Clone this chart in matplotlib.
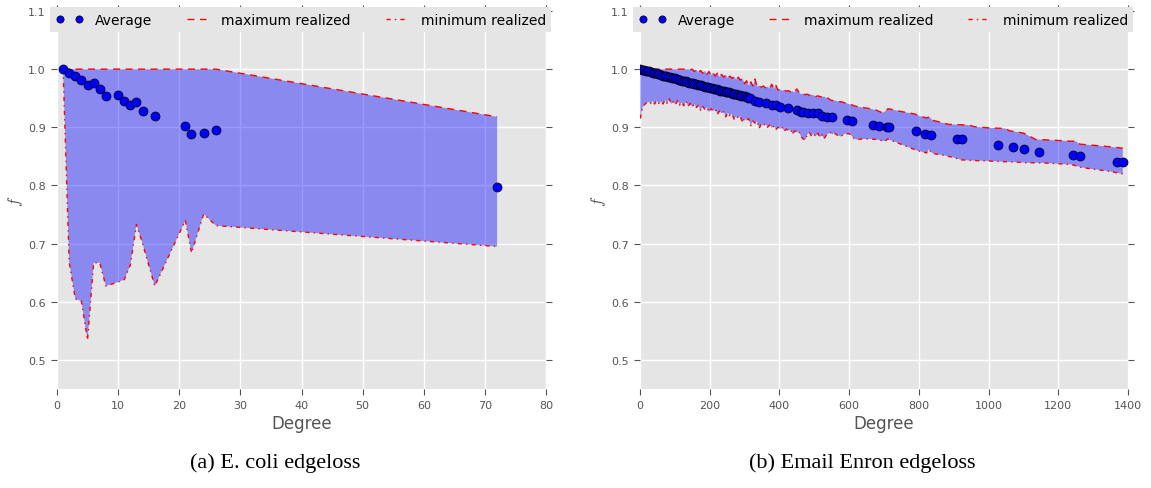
import numpy as np
import matplotlib
matplotlib.use("Agg")
import matplotlib.pyplot as plt

OUT_PNG = "out.png"

# --- E. coli edgeloss ---
ecoli_deg = [1, 2, 3, 4, 5, 6, 7, 8, 10, 11, 12, 13, 14, 16, 21, 22, 24, 26, 72]
ecoli_avg = [1.000, 0.994, 0.988, 0.981, 0.973, 0.976, 0.966, 0.953, 0.956, 0.945,
             0.938, 0.944, 0.928, 0.920, 0.903, 0.889, 0.891, 0.896, 0.797]
ecoli_max = [1.000, 1.000, 1.000, 1.000, 1.000, 1.000, 1.000, 1.000, 1.000, 1.000,
             1.000, 1.000, 1.000, 1.000, 1.000, 1.000, 1.000, 1.000, 0.918]
ecoli_min = [1.000, 0.668, 0.605, 0.601, 0.534, 0.667, 0.667, 0.627, 0.634, 0.638,
             0.663, 0.733, 0.700, 0.627, 0.740, 0.684, 0.751, 0.731, 0.695]

# --- Email Enron edgeloss ---
enron_avg_deg = [1, 6, 11, 16, 21, 26, 31, 36, 41, 46, 51, 56, 61, 66, 71, 76, 81, 86,
                 91, 96, 101, 106, 111, 116, 121, 126, 131, 136, 141, 146, 151, 156,
                 161, 166, 171, 176, 181, 186, 191, 196, 201, 206, 211, 216, 221, 226,
                 231, 236, 241, 246, 251, 256, 261, 266, 271, 276, 281, 286, 291, 296,
                 301, 306, 311, 316,
                 330, 342, 363, 380, 390, 403, 424, 451, 461, 468, 482, 496, 511, 522,
                 538, 551, 594, 608, 668, 687, 708, 715, 792, 818, 834, 910, 924, 1026,
                 1069, 1102, 1144, 1243, 1263, 1369, 1385]
enron_avg = [1.000, 0.999, 0.998, 0.997, 0.996, 0.996, 0.995, 0.994, 0.993, 0.993,
             0.992, 0.991, 0.990, 0.989, 0.988, 0.988, 0.987, 0.986, 0.985, 0.984,
             0.984, 0.983, 0.982, 0.981, 0.980, 0.980, 0.979, 0.978, 0.977, 0.977,
             0.976, 0.975, 0.974, 0.973, 0.973, 0.972, 0.971, 0.970, 0.969, 0.969,
             0.968, 0.967, 0.966, 0.966, 0.965, 0.964, 0.963, 0.963, 0.962, 0.961,
             0.960, 0.960, 0.959, 0.958, 0.957, 0.957, 0.956, 0.955, 0.954, 0.954,
             0.953, 0.952, 0.951, 0.951,
             0.946, 0.944, 0.942, 0.939, 0.938, 0.935, 0.933, 0.929, 0.927, 0.927,
             0.925, 0.924, 0.924, 0.920, 0.918, 0.917, 0.913, 0.911, 0.904, 0.902,
             0.900, 0.900, 0.893, 0.889, 0.887, 0.880, 0.879, 0.869, 0.866, 0.863,
             0.858, 0.853, 0.851, 0.841, 0.840]

enron_max_deg = [1, 140, 144, 150, 156, 162, 168, 174, 180, 186, 192, 198, 204, 210,
                 216, 222, 228, 234, 240, 246, 252, 258, 264, 270, 276, 282, 288, 294,
                 300, 306, 312, 318, 324, 330, 336, 342, 348, 354, 360, 366, 372, 378,
                 384, 390, 396, 402, 408, 414, 420, 426, 432, 438, 444, 450, 456, 462,
                 468, 474, 480, 486, 492, 498, 504, 510, 516, 522, 528, 534, 540, 546,
                 552, 558, 564, 570, 576, 582, 588, 594, 600,
                 620, 640, 660, 680, 695, 705, 712, 750, 787, 810, 822, 830, 840, 886,
                 940, 960, 1000, 1048, 1060, 1100, 1120, 1135, 1180, 1238, 1250, 1262,
                 1300, 1340, 1385]
enron_max = [1.000, 1.000, 0.999, 1.000, 0.996, 0.999, 0.994, 0.998, 0.993, 0.997,
             0.991, 0.996, 0.990, 0.994, 0.988, 0.993, 0.987, 0.991, 0.986, 0.990,
             0.985, 0.988, 0.984, 0.987, 0.982, 0.986, 0.981, 0.984, 0.975, 0.980,
             0.972, 0.978, 0.971, 0.983, 0.970, 0.972, 0.969, 0.971, 0.968, 0.970,
             0.967, 0.974, 0.966, 0.972, 0.964, 0.965, 0.963, 0.964, 0.962, 0.963,
             0.961, 0.962, 0.960, 0.966, 0.960, 0.957, 0.958, 0.956, 0.957, 0.955,
             0.956, 0.955, 0.953, 0.954, 0.953, 0.952, 0.953, 0.951, 0.950, 0.947,
             0.946, 0.946, 0.945, 0.944, 0.944, 0.943, 0.942, 0.941, 0.940,
             0.936, 0.934, 0.932, 0.929, 0.925, 0.928, 0.932, 0.927, 0.923, 0.918,
             0.916, 0.918, 0.912, 0.905, 0.904, 0.901, 0.899, 0.898, 0.894, 0.890,
             0.884, 0.879, 0.878, 0.876, 0.876, 0.871, 0.869, 0.867, 0.864]

enron_min_deg = [1, 4, 8, 12, 18, 24, 30, 36, 42, 48, 54, 60, 66, 72, 78, 84, 90, 96,
                 102, 108, 114, 120, 126, 132, 138, 144, 150, 156, 162, 168, 174, 180,
                 186, 192, 198, 204, 210, 216, 222, 228, 234, 240, 246, 252, 258, 264,
                 270, 276, 282, 288, 294, 300, 306, 312, 318, 324, 330, 336, 342, 348,
                 354, 360, 366, 372, 378, 384, 390, 396, 402, 408, 414, 420, 426, 432,
                 438, 444, 450, 456, 462, 468, 474, 480, 486, 492, 498, 504, 510, 516,
                 522, 528, 534, 540, 546, 552, 558, 564, 570, 576, 582, 588, 594, 600,
                 606, 612, 620, 640, 660, 680, 695, 704, 710, 740, 770, 795, 815, 822,
                 828, 840, 870, 900, 922, 950, 1000, 1040, 1080, 1110, 1141, 1180, 1238,
                 1266, 1300, 1340, 1385]
enron_min = [0.915, 0.925, 0.935, 0.938, 0.942, 0.944, 0.941, 0.945, 0.940, 0.946,
             0.941, 0.944, 0.940, 0.947, 0.941, 0.949, 0.940, 0.944, 0.939, 0.946,
             0.938, 0.943, 0.937, 0.945, 0.936, 0.941, 0.935, 0.940, 0.934, 0.938,
             0.929, 0.936, 0.931, 0.934, 0.926, 0.932, 0.928, 0.931, 0.922, 0.928,
             0.924, 0.927, 0.918, 0.925, 0.920, 0.923, 0.914, 0.919, 0.916, 0.919,
             0.908, 0.915, 0.912, 0.915, 0.903, 0.911, 0.907, 0.910, 0.898, 0.906,
             0.903, 0.906, 0.900, 0.904, 0.899, 0.902, 0.896, 0.900, 0.897, 0.900,
             0.893, 0.897, 0.894, 0.896, 0.888, 0.894, 0.891, 0.893, 0.884, 0.880,
             0.878, 0.888, 0.891, 0.885, 0.889, 0.884, 0.890, 0.883, 0.887, 0.880,
             0.886, 0.889, 0.891, 0.888, 0.890, 0.887, 0.886, 0.884, 0.887, 0.889,
             0.889, 0.889,
             0.886, 0.882, 0.879, 0.880, 0.880, 0.879, 0.877, 0.876, 0.880, 0.873,
             0.866, 0.860, 0.857, 0.856, 0.862, 0.855, 0.852, 0.848, 0.844, 0.843,
             0.842, 0.841, 0.840, 0.839, 0.839, 0.838, 0.836, 0.831, 0.828, 0.825,
             0.820]

ECOLI_XTICKS = [0, 10, 20, 30, 40, 50, 60, 70, 80]
ENRON_XTICKS = [0, 200, 400, 600, 800, 1000, 1200, 1400]
YTICKS = [0.5, 0.6, 0.7, 0.8, 0.9, 1.0, 1.1]

GREY = "#555555"
plt.rcParams["mathtext.fontset"] = "cm"


def style_axes(ax, xmax, xticks):
    ax.set_facecolor("#E5E5E5")
    ax.grid(True, color="white", linewidth=1.0, linestyle="-")
    ax.set_axisbelow(True)
    for s in ax.spines.values():
        s.set_visible(False)
    ax.set_xlim(0, xmax)
    ax.set_ylim(0.45, 1.1)
    ax.set_xticks(xticks)
    ax.set_yticks(YTICKS)
    ax.tick_params(direction="out", length=4, width=0.8, color=GREY,
                   labelcolor=GREY, labelsize=8, top=True, right=True, pad=4)
    ax.set_xlabel("Degree", fontsize=12, color=GREY, labelpad=3)
    ax.set_ylabel("$f$", fontsize=12, color=GREY, labelpad=2)


def draw_panel(ax, avg_x, avg_y, max_x, max_y, min_x, min_y):
    ax.plot(avg_x, avg_y, "o", color="b", mec="k", mew=0.5, ms=6.5,
            label="Average", zorder=4)
    ax.plot(max_x, max_y, color="r", lw=1.0, dashes=(5, 4),
            label="maximum realized", zorder=3)
    ax.plot(min_x, min_y, color="r", lw=1.0, dashes=(3, 3, 1, 3),
            label="minimum realized", zorder=3)
    # shaded band between the realized max and min
    band_x = np.concatenate([max_x, np.asarray(min_x)[::-1]])
    band_y = np.concatenate([max_y, np.asarray(min_y)[::-1]])
    ax.fill(band_x, band_y, color="b", alpha=0.4, lw=0, zorder=2)
    leg = ax.legend(loc="upper left", bbox_to_anchor=(-0.014, 0.944, 1.025, 0.066),
                    mode="expand", ncol=3, numpoints=2, fontsize=10,
                    markerscale=0.8, borderaxespad=0, handlelength=2.0,
                    handletextpad=0.8, frameon=True, fancybox=False)
    leg.get_frame().set_facecolor("#E5E5E5")
    leg.get_frame().set_edgecolor("none")
    leg.get_frame().set_alpha(1.0)


def main():
    fig = plt.figure(figsize=(11.51, 4.89), dpi=100)
    ax1 = fig.add_axes([0.0495, 0.2025, 0.4249, 0.773])
    ax2 = fig.add_axes([0.556, 0.2025, 0.4240, 0.773])

    style_axes(ax1, 80, ECOLI_XTICKS)
    draw_panel(ax1, ecoli_deg, ecoli_avg, ecoli_deg, ecoli_max, ecoli_deg, ecoli_min)

    style_axes(ax2, 1400, ENRON_XTICKS)
    draw_panel(ax2, enron_avg_deg, enron_avg, enron_max_deg, enron_max,
               enron_min_deg, enron_min)

    fig.text(0.239, 0.053, "(a) E. coli edgeloss", ha="center", va="center",
             fontsize=16, family="Liberation Serif")
    fig.text(0.749, 0.053, "(b) Email Enron edgeloss", ha="center", va="center",
             fontsize=16, family="Liberation Serif")

    fig.savefig(OUT_PNG, dpi=100)


if __name__ == "__main__":
    main()
